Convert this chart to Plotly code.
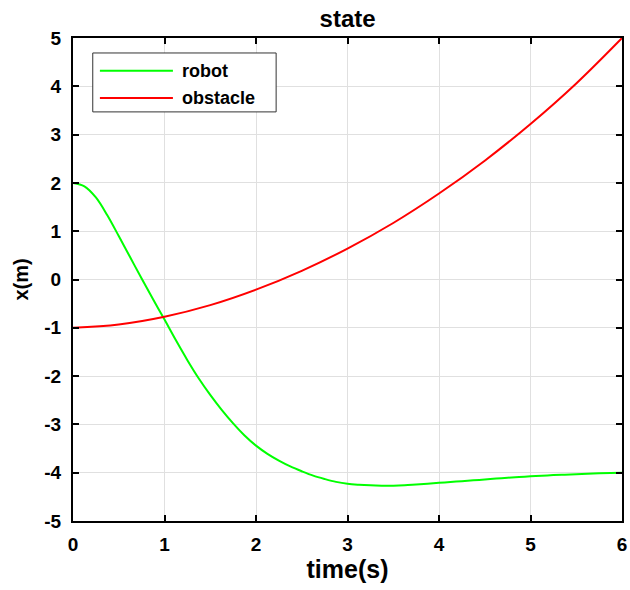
import plotly.graph_objects as go

# Simulated trajectories over time (uniform time step)
robot_t = [i * 0.125 for i in range(49)]
robot_x = [2.0, 1.93, 1.70, 1.33, 0.90, 0.46, 0.02, -0.41,
           -0.83, -1.26, -1.67, -2.05, -2.39, -2.70, -2.98, -3.23,
           -3.44, -3.61, -3.75, -3.87, -3.97, -4.06, -4.13, -4.19,
           -4.23, -4.25, -4.262, -4.268, -4.27, -4.262, -4.245, -4.228,
           -4.21, -4.193, -4.175, -4.158, -4.14, -4.122, -4.105, -4.09,
           -4.075, -4.062, -4.05, -4.04, -4.03, -4.021, -4.013, -4.006,
           -4.0]

obstacle_t = [0, 0.5, 1, 1.5, 2, 2.5, 3, 3.5, 4, 4.5, 5, 5.5, 6]
obstacle_x = [-1.0, -0.93, -0.77, -0.53, -0.21, 0.18, 0.64, 1.17, 1.78, 2.46, 3.22, 4.06, 5.0]

x_ticks = [0, 1, 2, 3, 4, 5, 6]
y_ticks = [5, 4, 3, 2, 1, 0, -1, -2, -3, -4, -5]

series_names = ["robot", "obstacle"]
series_colors = ["#00ff00", "#ff0000"]

FONT = "Liberation Sans, Arial, sans-serif"

fig = go.Figure()
fig.add_trace(go.Scatter(x=robot_t, y=robot_x, mode="lines", name=series_names[0],
                         line=dict(color=series_colors[0], width=2, shape="spline", smoothing=1.0),
                         showlegend=False))
fig.add_trace(go.Scatter(x=obstacle_t, y=obstacle_x, mode="lines", name=series_names[1],
                         line=dict(color=series_colors[1], width=2, shape="spline", smoothing=1.0),
                         showlegend=False))

axis_common = dict(
    showline=True, linecolor="black", linewidth=2, mirror="allticks",
    ticks="inside", ticklen=6, tickwidth=2, tickcolor="black",
    showgrid=True, gridcolor="#e0e0e0", gridwidth=1, zeroline=False,
    automargin=False,
    tickfont=dict(family=FONT, size=19, color="black", weight="bold"),
)

fig.update_xaxes(range=[0, 6], tickvals=x_ticks, ticktext=[str(v) for v in x_ticks],
                 ticklabelstandoff=5,
                 title=dict(text="<b>time(s)</b>", font=dict(family=FONT, size=25, color="black"),
                            standoff=4),
                 **axis_common)
fig.update_yaxes(range=[-5, 5], tickvals=y_ticks, ticktext=[str(v) for v in y_ticks],
                 ticklabelstandoff=6,
                 title=dict(text="<b>x(m)</b>", font=dict(family=FONT, size=20, color="black"),
                            standoff=10),
                 **axis_common)

# Legend box drawn in paper coordinates
shapes = [
    dict(type="rect", xref="paper", yref="paper", x0=0.036, x1=0.370, y0=0.847, y1=0.969,
         line=dict(color="#333333", width=1), fillcolor="white", layer="above"),
]
annotations = []
legend_rows = [0.932, 0.876]
for name, color, yrow in zip(series_names, series_colors, legend_rows):
    shapes.append(dict(type="line", xref="paper", yref="paper", x0=0.049, x1=0.182,
                       y0=yrow, y1=yrow, line=dict(color=color, width=2), layer="above"))
    annotations.append(dict(xref="paper", yref="paper", x=0.195, y=yrow, xanchor="left",
                            yanchor="middle", showarrow=False, text=f"<b>{name}</b>",
                            font=dict(family=FONT, size=18, color="black")))

fig.update_layout(
    width=630, height=590,
    margin=dict(l=73, r=8, t=38, b=69),
    paper_bgcolor="white", plot_bgcolor="white",
    title=dict(text="<b>state</b>", x=0.5517, xanchor="center", y=0.969, yanchor="middle",
               font=dict(family=FONT, size=24, color="black")),
    shapes=shapes, annotations=annotations,
    showlegend=False,
)

fig.write_html("out.html")
